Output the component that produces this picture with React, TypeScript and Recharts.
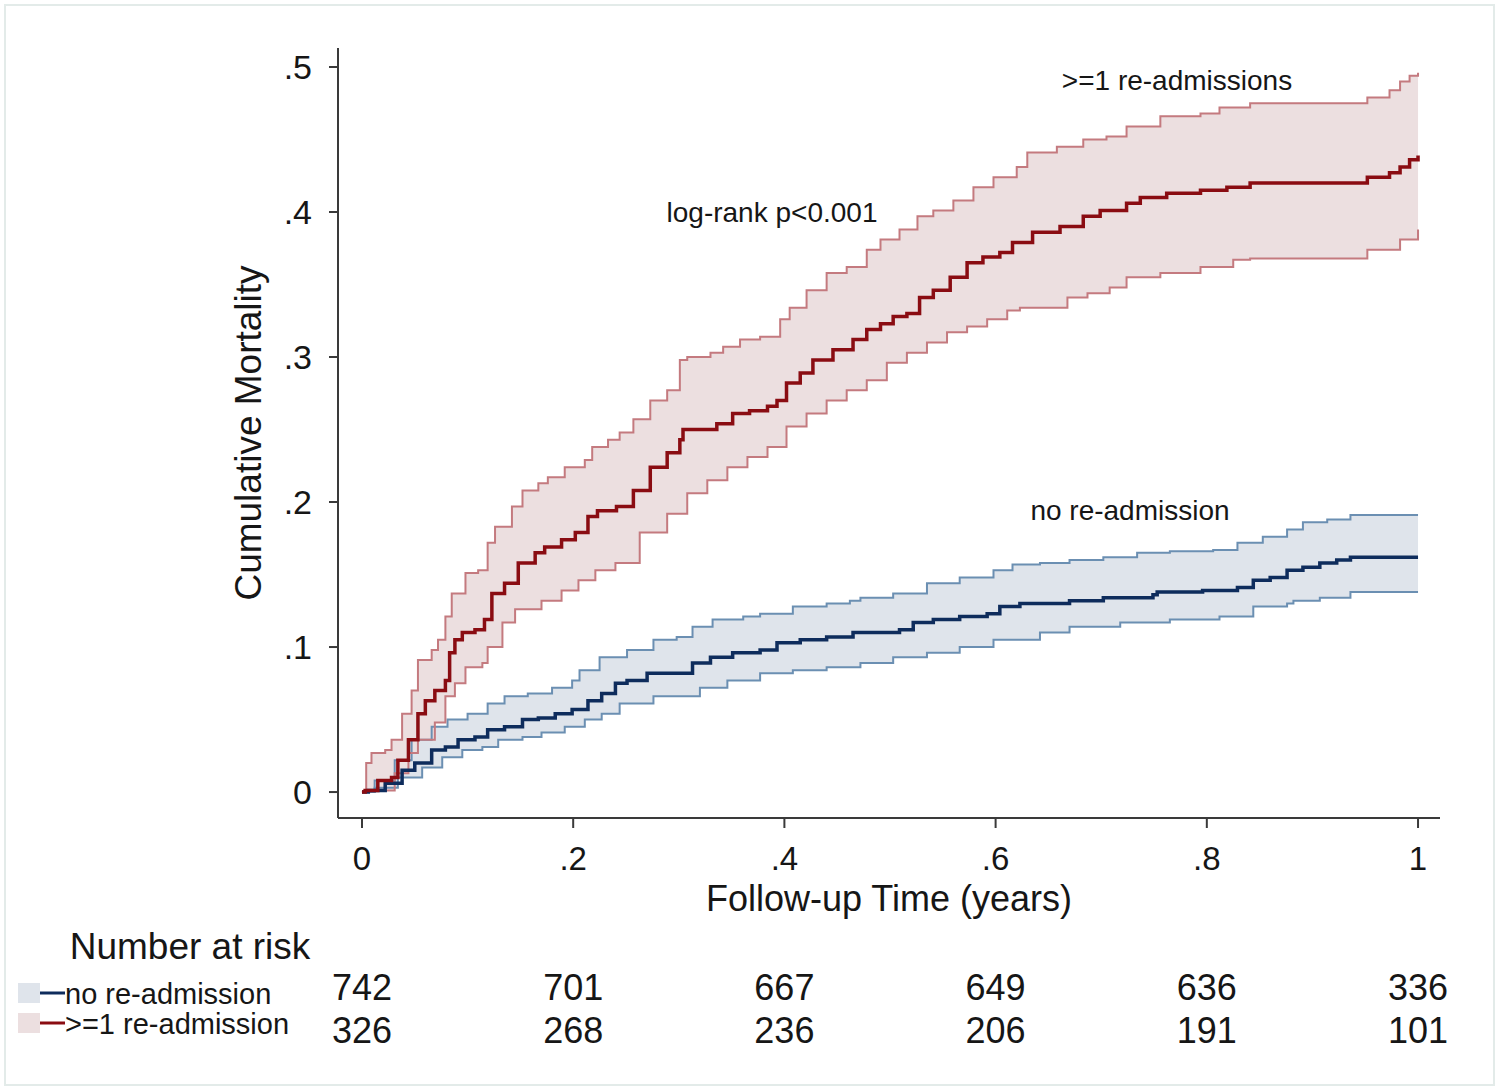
import React from "react";
import { ComposedChart, Line, Area, XAxis, YAxis } from "recharts";

const FONT = "'Liberation Sans', Arial, Helvetica, sans-serif";

// Axis ticks and labels
const xTicks = [0, 0.2, 0.4, 0.6, 0.8, 1];
const xTickLabels = ["0", ".2", ".4", ".6", ".8", "1"];
const yTicks = [0, 0.1, 0.2, 0.3, 0.4, 0.5];
const yTickLabels = ["0", ".1", ".2", ".3", ".4", ".5"];

// Number at risk
const riskNoReadmission = [742, 701, 667, 649, 636, 336];
const riskReadmission = [326, 268, 236, 206, 191, 101];

// >=1 re-admission: [time (years), cumulative mortality]
const redEst: [number, number][] = [
  [0, 0], [0.003, 0.001], [0.015, 0.008], [0.028, 0.01], [0.034, 0.022], [0.044, 0.036],
  [0.053, 0.054], [0.06, 0.063], [0.069, 0.07], [0.079, 0.077], [0.083, 0.096], [0.088, 0.105],
  [0.095, 0.11], [0.107, 0.112], [0.116, 0.119], [0.123, 0.137], [0.135, 0.144], [0.148, 0.158],
  [0.164, 0.165], [0.173, 0.169], [0.189, 0.174], [0.202, 0.179], [0.214, 0.19], [0.223, 0.194],
  [0.241, 0.197], [0.257, 0.208], [0.273, 0.224], [0.289, 0.234], [0.301, 0.243], [0.304, 0.25],
  [0.32, 0.25], [0.336, 0.254], [0.351, 0.261], [0.367, 0.263], [0.384, 0.266], [0.393, 0.27],
  [0.402, 0.282], [0.415, 0.289], [0.427, 0.298], [0.446, 0.305], [0.465, 0.312], [0.478, 0.319],
  [0.491, 0.323], [0.503, 0.328], [0.516, 0.33], [0.528, 0.341], [0.541, 0.346], [0.557, 0.355],
  [0.573, 0.365], [0.588, 0.369], [0.604, 0.372], [0.616, 0.379], [0.635, 0.386], [0.661, 0.39],
  [0.683, 0.397], [0.699, 0.401], [0.724, 0.406], [0.737, 0.41], [0.762, 0.413], [0.794, 0.415],
  [0.819, 0.417], [0.841, 0.42], [0.945, 0.42], [0.952, 0.424], [0.973, 0.427], [0.983, 0.431],
  [0.992, 0.436], [1.0, 0.439],
];
const redUpper: [number, number][] = [
  [0, 0], [0.004, 0.02], [0.009, 0.027], [0.022, 0.029], [0.028, 0.036], [0.038, 0.054],
  [0.047, 0.07], [0.053, 0.091], [0.066, 0.098], [0.072, 0.105], [0.079, 0.121], [0.085, 0.137],
  [0.098, 0.151], [0.11, 0.153], [0.119, 0.172], [0.126, 0.183], [0.142, 0.197], [0.152, 0.208],
  [0.167, 0.213], [0.176, 0.217], [0.192, 0.224], [0.211, 0.229], [0.218, 0.238], [0.233, 0.243],
  [0.244, 0.248], [0.257, 0.257], [0.273, 0.27], [0.289, 0.277], [0.301, 0.298], [0.308, 0.3],
  [0.33, 0.303], [0.342, 0.307], [0.358, 0.312], [0.377, 0.314], [0.396, 0.326], [0.405, 0.334],
  [0.421, 0.346], [0.44, 0.358], [0.459, 0.362], [0.478, 0.374], [0.491, 0.381], [0.509, 0.388],
  [0.526, 0.397], [0.541, 0.401], [0.56, 0.408], [0.579, 0.417], [0.598, 0.424], [0.62, 0.431],
  [0.63, 0.441], [0.658, 0.445], [0.683, 0.45], [0.705, 0.452], [0.724, 0.459], [0.756, 0.466],
  [0.794, 0.468], [0.812, 0.472], [0.841, 0.475], [0.945, 0.475], [0.952, 0.479], [0.973, 0.484],
  [0.983, 0.49], [0.992, 0.494], [1.0, 0.496],
];
const redLower: [number, number][] = [
  [0, 0], [0.006, 0.001], [0.031, 0.013], [0.044, 0.027], [0.053, 0.036], [0.069, 0.048],
  [0.079, 0.066], [0.088, 0.075], [0.098, 0.086], [0.114, 0.089], [0.119, 0.1], [0.133, 0.117],
  [0.145, 0.126], [0.17, 0.132], [0.189, 0.139], [0.205, 0.146], [0.221, 0.153], [0.24, 0.158],
  [0.263, 0.179], [0.289, 0.192], [0.308, 0.206], [0.327, 0.215], [0.346, 0.224], [0.365, 0.231],
  [0.384, 0.238], [0.402, 0.252], [0.421, 0.261], [0.44, 0.27], [0.459, 0.277], [0.478, 0.284],
  [0.497, 0.296], [0.516, 0.303], [0.535, 0.31], [0.554, 0.317], [0.573, 0.321], [0.592, 0.326],
  [0.611, 0.332], [0.623, 0.334], [0.668, 0.341], [0.687, 0.344], [0.708, 0.348], [0.724, 0.355],
  [0.756, 0.358], [0.794, 0.362], [0.825, 0.367], [0.841, 0.368], [0.945, 0.368], [0.952, 0.374],
  [0.983, 0.381], [1.0, 0.388],
];

// no re-admission
const blueEst: [number, number][] = [
  [0, 0], [0.006, 0.001], [0.022, 0.006], [0.038, 0.015], [0.05, 0.02], [0.066, 0.029],
  [0.079, 0.031], [0.091, 0.036], [0.107, 0.038], [0.119, 0.043], [0.135, 0.045], [0.152, 0.05],
  [0.167, 0.051], [0.183, 0.054], [0.199, 0.057], [0.214, 0.063], [0.227, 0.068], [0.24, 0.075],
  [0.251, 0.077], [0.27, 0.082], [0.298, 0.082], [0.313, 0.089], [0.33, 0.093], [0.351, 0.096],
  [0.377, 0.098], [0.393, 0.103], [0.415, 0.105], [0.44, 0.107], [0.465, 0.11], [0.488, 0.11],
  [0.509, 0.112], [0.522, 0.117], [0.541, 0.119], [0.566, 0.121], [0.592, 0.123], [0.604, 0.128],
  [0.623, 0.13], [0.67, 0.132], [0.702, 0.134], [0.749, 0.136], [0.753, 0.138], [0.796, 0.139],
  [0.829, 0.141], [0.844, 0.146], [0.86, 0.148], [0.876, 0.153], [0.891, 0.155], [0.907, 0.158],
  [0.923, 0.16], [0.936, 0.162], [1.0, 0.162],
];
const blueUpper: [number, number][] = [
  [0, 0], [0.012, 0.008], [0.031, 0.022], [0.047, 0.036], [0.066, 0.045], [0.081, 0.05],
  [0.1, 0.054], [0.119, 0.061], [0.135, 0.066], [0.157, 0.068], [0.18, 0.072], [0.199, 0.077],
  [0.206, 0.084], [0.225, 0.093], [0.251, 0.098], [0.276, 0.105], [0.298, 0.107], [0.313, 0.114],
  [0.332, 0.119], [0.361, 0.121], [0.377, 0.123], [0.408, 0.128], [0.44, 0.13], [0.462, 0.132],
  [0.472, 0.134], [0.503, 0.137], [0.535, 0.144], [0.566, 0.148], [0.598, 0.153], [0.616, 0.157],
  [0.642, 0.158], [0.67, 0.16], [0.702, 0.162], [0.734, 0.165], [0.765, 0.166], [0.806, 0.167],
  [0.829, 0.172], [0.853, 0.176], [0.876, 0.181], [0.891, 0.186], [0.914, 0.188], [0.936, 0.191],
  [1.0, 0.191],
];
const blueLower: [number, number][] = [
  [0, 0], [0.012, 0.003], [0.034, 0.01], [0.057, 0.017], [0.076, 0.024], [0.095, 0.029],
  [0.114, 0.031], [0.129, 0.036], [0.152, 0.038], [0.17, 0.041], [0.192, 0.045], [0.211, 0.05],
  [0.227, 0.054], [0.244, 0.061], [0.276, 0.066], [0.298, 0.066], [0.32, 0.072], [0.346, 0.077],
  [0.377, 0.082], [0.408, 0.084], [0.44, 0.086], [0.472, 0.089], [0.503, 0.093], [0.535, 0.096],
  [0.566, 0.1], [0.598, 0.105], [0.642, 0.11], [0.67, 0.114], [0.718, 0.117], [0.765, 0.119],
  [0.812, 0.121], [0.844, 0.128], [0.876, 0.13], [0.882, 0.132], [0.907, 0.134], [0.936, 0.138],
  [1.0, 0.138],
];

const toRows = (s: [number, number][]) => s.map(([t, v]) => ({ t, v }));

// Merge lower/upper step functions into a range table for a band Area
const buildBand = (lo: [number, number][], hi: [number, number][]) => {
  const times = Array.from(new Set([...lo.map((p) => p[0]), ...hi.map((p) => p[0])])).sort((a, b) => a - b);
  const stepVal = (s: [number, number][], t: number) => {
    let v = s[0][1];
    for (const [pt, pv] of s) {
      if (pt <= t) v = pv;
      else break;
    }
    return v;
  };
  return times.map((t) => ({ t, range: [stepVal(lo, t), stepVal(hi, t)] }));
};

const RED_LINE = "#8a0c12";
const RED_EDGE = "#c47a7f";
const RED_FILL = "#ecdfe0";
const BLUE_LINE = "#0e2c5c";
const BLUE_EDGE = "#6b8fb2";
const BLUE_FILL = "#dfe4eb";
const TEXT = "#161616";

const X_DOMAIN: [number, number] = [-0.0227, 1.0208];
const Y_DOMAIN: [number, number] = [-0.0179, 0.5131];

const RiskTick = (props: any) => {
  const { x, y, payload } = props;
  const i = xTicks.indexOf(payload.value);
  if (i < 0) return null;
  return (
    <g>
      <text x={x} y={y + 82} textAnchor="middle" fontSize={36} fill={TEXT} fontFamily={FONT}>
        {riskNoReadmission[i]}
      </text>
      <text x={x} y={y + 125} textAnchor="middle" fontSize={36} fill={TEXT} fontFamily={FONT}>
        {riskReadmission[i]}
      </text>
    </g>
  );
};

export default function App() {
  const redBand = buildBand(redLower, redUpper);
  const blueBand = buildBand(blueLower, blueUpper);
  return (
    <div style={{ position: "absolute", left: 0, top: 0, width: 1500, height: 1091, background: "#fff" }}>
      <ComposedChart
        width={1500}
        height={1091}
        margin={{ top: 48, right: 60, left: 238, bottom: 43 }}
        style={{ fontFamily: FONT }}
      >
        <XAxis
          xAxisId="main"
          dataKey="t"
          type="number"
          domain={X_DOMAIN}
          allowDataOverflow
          ticks={xTicks}
          tickFormatter={(v: number) => xTickLabels[xTicks.indexOf(v)] ?? ""}
          height={100}
          tickSize={10}
          tickMargin={19}
          stroke="#3a3a3a"
          strokeWidth={2}
          tick={{ fontSize: 33, fill: TEXT, fontFamily: FONT }}
        />
        <XAxis
          xAxisId="risk"
          dataKey="t"
          type="number"
          domain={X_DOMAIN}
          allowDataOverflow
          ticks={xTicks}
          height={130}
          axisLine={false}
          tickLine={false}
          tickSize={0}
          tickMargin={0}
          tick={<RiskTick />}
        />
        <YAxis
          yAxisId="y"
          type="number"
          domain={Y_DOMAIN}
          allowDataOverflow
          ticks={yTicks}
          tickFormatter={(v: number) => yTickLabels[yTicks.indexOf(v)] ?? ""}
          width={100}
          tickSize={9}
          tickMargin={17}
          stroke="#3a3a3a"
          strokeWidth={2}
          tick={{ fontSize: 34, fill: TEXT, fontFamily: FONT }}
        />

        <Area
          xAxisId="main"
          yAxisId="y"
          data={blueBand}
          dataKey="range"
          type="stepAfter"
          stroke="none"
          fill={BLUE_FILL}
          fillOpacity={1}
          isAnimationActive={false}
        />
        <Area
          xAxisId="main"
          yAxisId="y"
          data={redBand}
          dataKey="range"
          type="stepAfter"
          stroke="none"
          fill={RED_FILL}
          fillOpacity={1}
          isAnimationActive={false}
        />
        <Line xAxisId="main" yAxisId="y" data={toRows(blueUpper)} dataKey="v" type="stepAfter" stroke={BLUE_EDGE} strokeWidth={2} dot={false} isAnimationActive={false} />
        <Line xAxisId="main" yAxisId="y" data={toRows(blueLower)} dataKey="v" type="stepAfter" stroke={BLUE_EDGE} strokeWidth={2} dot={false} isAnimationActive={false} />
        <Line xAxisId="main" yAxisId="y" data={toRows(redUpper)} dataKey="v" type="stepAfter" stroke={RED_EDGE} strokeWidth={2} dot={false} isAnimationActive={false} />
        <Line xAxisId="main" yAxisId="y" data={toRows(redLower)} dataKey="v" type="stepAfter" stroke={RED_EDGE} strokeWidth={2} dot={false} isAnimationActive={false} />
        <Line xAxisId="main" yAxisId="y" data={toRows(blueEst)} dataKey="v" type="stepAfter" stroke={BLUE_LINE} strokeWidth={3.5} dot={false} isAnimationActive={false} />
        <Line xAxisId="main" yAxisId="y" data={toRows(redEst)} dataKey="v" type="stepAfter" stroke={RED_LINE} strokeWidth={3.5} dot={false} isAnimationActive={false} />
      </ComposedChart>

      <svg
        width={1500}
        height={1091}
        style={{ position: "absolute", left: 0, top: 0, pointerEvents: "none" }}
        fontFamily={FONT}
      >
        <rect x={5} y={5} width={1489} height={1080} fill="none" stroke="#e3ebe9" strokeWidth={2} />
        <text x={248} y={433} transform="rotate(-90 248 433)" textAnchor="middle" dominantBaseline="central" fontSize={37} fill={TEXT}>
          Cumulative Mortality
        </text>
        <text x={889} y={898} textAnchor="middle" dominantBaseline="central" fontSize={36} fill={TEXT}>
          Follow-up Time (years)
        </text>
        <text x={772} y={212} textAnchor="middle" dominantBaseline="central" fontSize={28} fill={TEXT}>
          log-rank p&lt;0.001
        </text>
        <text x={1177} y={80} textAnchor="middle" dominantBaseline="central" fontSize={28} fill={TEXT}>
          &gt;=1 re-admissions
        </text>
        <text x={1130} y={510} textAnchor="middle" dominantBaseline="central" fontSize={28} fill={TEXT}>
          no re-admission
        </text>
        <text x={190} y={946} textAnchor="middle" dominantBaseline="central" fontSize={37} fill={TEXT}>
          Number at risk
        </text>
        <rect x={18} y={983} width={22} height={20} fill={BLUE_FILL} />
        <line x1={40} y1={993} x2={65} y2={993} stroke={BLUE_LINE} strokeWidth={3} />
        <text x={65} y={994} dominantBaseline="central" fontSize={29} fill={TEXT}>
          no re-admission
        </text>
        <rect x={18} y={1013} width={22} height={20} fill={RED_FILL} />
        <line x1={40} y1={1023} x2={65} y2={1023} stroke={RED_LINE} strokeWidth={3} />
        <text x={65} y={1024} dominantBaseline="central" fontSize={29} fill={TEXT}>
          &gt;=1 re-admission
        </text>
      </svg>
    </div>
  );
}
